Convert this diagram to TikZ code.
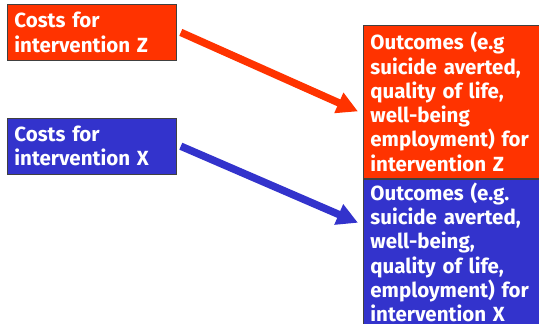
\documentclass[tikz,border=0pt]{standalone}
\usepackage{fontspec}
\setmainfont{Fira Sans}
\usepackage{xcolor}
\usetikzlibrary{positioning, arrows.meta}

\definecolor{zred}{HTML}{FF3300}
\definecolor{xblue}{HTML}{3333CC}

\begin{document}
\begin{tikzpicture}[x=1pt, y=1pt, node distance=0pt,
	box/.style={draw=black!75, line width=.8pt, text=white, align=left, inner xsep=7pt,
		font=\bfseries\fontsize{20.5}{24.3}\selectfont},
	costbox/.style={box, text width=155pt, minimum height=56pt},
	outbox/.style={box, text width=164pt},
	link/.style={line width=7.5pt, -{Triangle[length=21pt, width=21pt]}}]
	\useasboundingbox (0,0) rectangle (539,-324);
	\node[costbox, fill=zred, anchor=north west] (costZ) at (7,-4) {Costs for\\intervention Z};
	\node[costbox, fill=xblue, below=57pt of costZ] (costX) {Costs for\\intervention X};
	\node[outbox, fill=zred, minimum height=153pt, anchor=north west] (outZ) at (363,-25) {Outcomes (e.g\\suicide averted,\\quality of life,\\well-being\\employment) for\\intervention Z};
	\node[outbox, fill=xblue, minimum height=146pt, below=of outZ] (outX) {Outcomes (e.g.\\suicide averted,\\well-being,\\quality of life,\\employment) for\\intervention X\par\vspace*{9pt}};
	\draw[link, zred] ([xshift=4pt]costZ.east) -- ([xshift=-5pt, yshift=-9.5pt]outZ.west);
	\draw[link, xblue] ([xshift=4pt]costX.east) -- ([xshift=-5pt, yshift=34pt]outX.west);
\end{tikzpicture}
\end{document}
